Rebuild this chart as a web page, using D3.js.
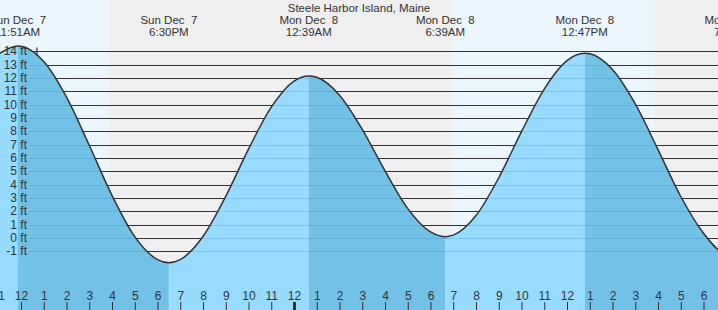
<!DOCTYPE html>
<html>
<head>
<meta charset="utf-8">
<script src="https://cdn.jsdelivr.net/npm/d3@7"></script>
<style>
  body { margin: 0; background: #fff; }
  text { font-family: "Liberation Sans", Arial, sans-serif; fill: #333; }
</style>
</head>
<body>
<div id="chart"></div>
<script>
(function(){
// Data
const title = "Steele Harbor Island, Maine";

// high / low tides (times in local time)
const tideTimes = ["2025-12-07T05:40", "2025-12-07T11:51", "2025-12-07T18:30", "2025-12-08T00:39",
                   "2025-12-08T06:39", "2025-12-08T12:47", "2025-12-08T19:20"];
const tideHeights = [1.0, 14.4, -1.85, 12.15, 0.1, 13.85, -1.4];
const tideDayLabels = ["Sun Dec  7", "Sun Dec  7", "Sun Dec  7", "Mon Dec  8", "Mon Dec  8", "Mon Dec  8", "Mon Dec  8"];
const tideTimeLabels = ["5:40AM", "11:51AM", "6:30PM", "12:39AM", "6:39AM", "12:47PM", "7:20PM"];

// hourly heights
const hourTimes = ["2025-12-07T11:00", "2025-12-07T12:00", "2025-12-07T13:00", "2025-12-07T14:00",
  "2025-12-07T15:00", "2025-12-07T16:00", "2025-12-07T17:00", "2025-12-07T18:00", "2025-12-07T19:00",
  "2025-12-07T20:00", "2025-12-07T21:00", "2025-12-07T22:00", "2025-12-07T23:00", "2025-12-08T00:00",
  "2025-12-08T01:00", "2025-12-08T02:00", "2025-12-08T03:00", "2025-12-08T04:00", "2025-12-08T05:00",
  "2025-12-08T06:00", "2025-12-08T07:00", "2025-12-08T08:00", "2025-12-08T09:00", "2025-12-08T10:00",
  "2025-12-08T11:00", "2025-12-08T12:00", "2025-12-08T13:00", "2025-12-08T14:00", "2025-12-08T15:00",
  "2025-12-08T16:00", "2025-12-08T17:00", "2025-12-08T18:00", "2025-12-08T19:00"];
const hourHeights = [13.78, 14.38, 13.23, 10.56, 6.95, 3.19, 0.10, -1.62, -1.62,
  0.11, 3.12, 6.66, 9.81, 11.77, 12.05, 10.71, 8.14, 5.03, 2.20,
  0.45, 0.21, 1.68, 4.51, 7.97, 11.17, 13.30, 13.81, 12.63, 10.05,
  6.63, 3.11, 0.35, -1.30];

// sunset / sunrise
const sunTimes = ["2025-12-07T15:50", "2025-12-08T06:54", "2025-12-08T15:51"];

const feetTicks = d3.range(-1, 15);
const markerTime = "2025-12-07T12:42";
const markerHeight = 14;

const width = 718, height = 310;
const parse = s => new Date(s);

const svg = d3.select("#chart").append("svg")
  .attr("width", width)
  .attr("height", height);

// noon Sun at x=21, noon Mon at x=567; widen to the full picture
const x = d3.scaleTime()
  .domain([parse("2025-12-07T12:00"), parse("2025-12-08T12:00")])
  .range([21, 567]);
x.domain([x.invert(-12), x.invert(width + 12)]).range([-12, width + 12]);
const y = d3.scaleLinear().domain([-1, 14]).range([251.3, 51.3]);

const t0 = x.invert(-30), t1 = x.invert(width + 30);

// day / night background
const sun = sunTimes.map(parse);
const edges = [t0, ...sun, t1];
svg.selectAll("rect.band")
  .data(d3.pairs(edges))
  .join("rect")
  .attr("class", "band")
  .attr("x", d => x(d[0]))
  .attr("width", d => x(d[1]) - x(d[0]))
  .attr("y", 0)
  .attr("height", height)
  .attr("fill", (d, i) => i % 2 === 0 ? "#ecf6ff" : "#efefef");

// grid lines above the water
const grid = svg.append("g");
grid.selectAll("line")
  .data(feetTicks)
  .join("line")
  .attr("x1", 29).attr("x2", width)
  .attr("y1", d => Math.round(y(d)) + 0.5)
  .attr("y2", d => Math.round(y(d)) + 0.5)
  .attr("stroke", "#333")
  .attr("stroke-width", 1);

// curve points
const pts = hourTimes.map((t, i) => ({ t: parse(t), h: hourHeights[i] }))
  .concat(tideTimes.map((t, i) => ({ t: parse(t), h: tideHeights[i] })))
  .sort((a, b) => a.t - b.t);

const area = d3.area()
  .x(d => x(d.t))
  .y0(height)
  .y1(d => y(d.h))
  .curve(d3.curveMonotoneX);
const line = d3.line()
  .x(d => x(d.t))
  .y(d => y(d.h))
  .curve(d3.curveMonotoneX);

svg.append("clipPath").attr("id", "water")
  .append("path").attr("d", area(pts));

const water = svg.append("g").attr("clip-path", "url(#water)");
const tides = tideTimes.map((t, i) => ({ t: parse(t), h: tideHeights[i] }));
water.selectAll("rect")
  .data(d3.pairs(tides))
  .join("rect")
  .attr("x", d => x(d[0].t))
  .attr("width", d => x(d[1].t) - x(d[0].t))
  .attr("y", 0)
  .attr("height", height)
  .attr("fill", d => d[1].h > d[0].h ? "#97dcfe" : "#72c1e6");

water.selectAll("line")
  .data(feetTicks)
  .join("line")
  .attr("x1", 29).attr("x2", width)
  .attr("y1", d => Math.round(y(d)) + 0.5)
  .attr("y2", d => Math.round(y(d)) + 0.5)
  .attr("stroke", "rgba(20,110,170,0.2)")
  .attr("stroke-width", 1);

svg.append("path")
  .attr("d", line(pts))
  .attr("fill", "none")
  .attr("stroke", "#333")
  .attr("stroke-width", 1.5);

// y labels
svg.append("g").selectAll("text")
  .data(feetTicks)
  .join("text")
  .attr("x", 27)
  .attr("y", d => y(d) + 4)
  .attr("text-anchor", "end")
  .style("font-size", "12px")
  .text(d => d + " ft");

// marker
const mx = x(parse(markerTime)), my = Math.round(y(markerHeight)) + 0.5;
svg.append("path")
  .attr("d", `M${mx - 4},${my}H${mx + 4}M${mx},${my - 4}V${my + 4}`)
  .attr("stroke", "#333")
  .attr("stroke-width", 1.2);

// title + tide labels
svg.append("text")
  .attr("x", width / 2)
  .attr("y", 11.5)
  .attr("text-anchor", "middle")
  .style("font-size", "11.5px")
  .text(title);

const lab = svg.append("g").selectAll("g")
  .data(tideTimes.map((t, i) => ({ t: parse(t), day: tideDayLabels[i], time: tideTimeLabels[i] })))
  .join("g")
  .attr("transform", d => `translate(${x(d.t)},0)`);
lab.append("text")
  .attr("y", 24)
  .attr("text-anchor", "middle")
  .style("font-size", "11.5px")
  .style("white-space", "pre")
  .text(d => d.day);
lab.append("text")
  .attr("y", 36)
  .attr("text-anchor", "middle")
  .style("font-size", "11.5px")
  .text(d => d.time);

// hour axis
const axis = d3.axisTop(x)
  .ticks(d3.timeHour.every(1))
  .tickFormat(d3.timeFormat("%-I"))
  .tickSize(8)
  .tickPadding(2);
const ax = svg.append("g")
  .attr("transform", `translate(0,${height})`)
  .call(axis);
ax.select(".domain").remove();
ax.selectAll(".tick line")
  .attr("stroke", "#333")
  .attr("stroke-width", d => d.getHours() === 0 ? 3 : 1);
ax.selectAll(".tick text")
  .attr("dy", "0")
  .style("font-size", "12px")
  .style("font-family", "'Liberation Sans', Arial, sans-serif")
  .attr("fill", "#333");
})();
</script>
</body>
</html>
